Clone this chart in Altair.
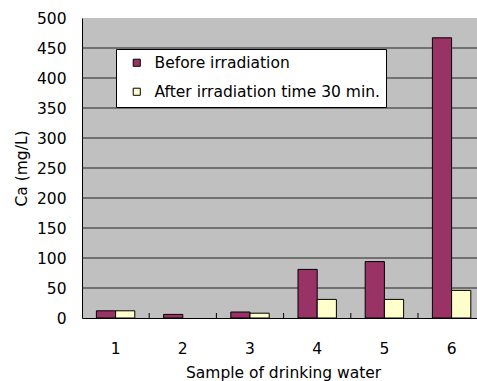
import altair as alt
import pandas as pd

# ---- data ----
samples = [1, 2, 3, 4, 5, 6]
series = ["Before irradiation", "After irradiation time 30 min."]
before = [12, 6, 10, 81, 94, 467]
after = [12, 0, 8, 31, 31, 46]
colors = ["#993366", "#FFFFCC"]
y_ticks = [0, 50, 100, 150, 200, 250, 300, 350, 400, 450, 500]
x_title = "Sample of drinking water"
y_title = "Ca (mg/L)"

FONT = "DejaVu Sans"
FS = 15.5
W, H = 395, 300
BAR = 1 / 3.5          # bar width in category units (Excel gap width 150 %)
X_MAX = 6.378          # reference crops the plot on the right

rows = []
for s, b, a in zip(samples, before, after):
    rows.append({"sample": s, "series": series[0], "k": 0, "ca": b})
    rows.append({"sample": s, "series": series[1], "k": 1, "ca": a})
df = pd.DataFrame(rows)

grid_df = pd.DataFrame({"v": y_ticks[1:-1]})
tick_df = pd.DataFrame({"b": [s + 0.5 for s in samples if s + 0.5 < X_MAX]})
lab_df = pd.DataFrame({"sample": samples, "lab": [str(s) for s in samples]})
title_df = pd.DataFrame({"x": [(samples[0] + samples[-1]) / 2], "t": [x_title]})

xscale = alt.Scale(domain=[0.5, X_MAX], nice=False, zero=False)
xaxis = alt.Axis(labels=False, ticks=False, grid=False, domain=True,
                 domainColor="black", domainWidth=1, title=None)
yscale = alt.Scale(domain=[0, 500], nice=False)
yaxis = alt.Axis(values=y_ticks, grid=False, ticks=False, domain=True,
                 domainColor="black", domainWidth=1,
                 labelFont=FONT, labelFontSize=FS, labelColor="black",
                 labelPadding=16, title=y_title, titleFont=FONT,
                 titleFontSize=FS, titleFontWeight="normal",
                 titleColor="black", titlePadding=7)


def X(field):
    return alt.X(field, type="quantitative", scale=xscale, axis=xaxis)


grid = alt.Chart(grid_df).mark_rule(color="#222222", strokeWidth=1).encode(
    y=alt.Y("v:Q", scale=yscale, axis=yaxis)
)

bars = alt.Chart(df).transform_filter("datum.ca > 0").transform_calculate(
    x0=f"datum.sample + (datum.k - 1) * {BAR}",
    x1=f"datum.sample + datum.k * {BAR}",
).mark_rect(stroke="black", strokeWidth=1).encode(
    x=X("x0"),
    x2="x1:Q",
    y=alt.Y("ca:Q", scale=yscale, axis=yaxis),
    y2=alt.datum(0),
    color=alt.Color(
        "series:N",
        scale=alt.Scale(domain=series, range=colors),
        legend=alt.Legend(
            title=None, orient="none", legendX=34, legendY=31,
            fillColor="white", strokeColor="black", padding=6,
            rowPadding=12, symbolType="square", symbolSize=50,
            symbolStrokeColor="black", symbolStrokeWidth=1,
            symbolOffset=7, labelOffset=10, labelFont=FONT,
            labelFontSize=FS, labelColor="black", labelLimit=400,
        ),
    ),
)

ticks = alt.Chart(tick_df).mark_rule(color="black", strokeWidth=1).encode(
    x=X("b"), y=alt.value(H), y2=alt.value(H - 5)
)

xlabels = alt.Chart(lab_df).mark_text(
    font=FONT, fontSize=FS, color="black", baseline="alphabetic", align="center"
).encode(x=X("sample"), y=alt.value(335.5), text="lab:N")

xtitle = alt.Chart(title_df).mark_text(
    font=FONT, fontSize=FS, color="black", baseline="alphabetic", align="center"
).encode(x=X("x"), y=alt.value(360), text="t:N")

chart = alt.layer(grid, bars, ticks, xlabels, xtitle).properties(
    width=W, height=H,
    autosize=alt.AutoSizeParams(type="none"),
    padding={"left": 82, "top": 18, "right": 0, "bottom": 63},
    background="white",
).configure_view(fill="#C0C0C0", stroke=None)

chart.save("out.html", embed_options={"renderer": "svg", "actions": False})
